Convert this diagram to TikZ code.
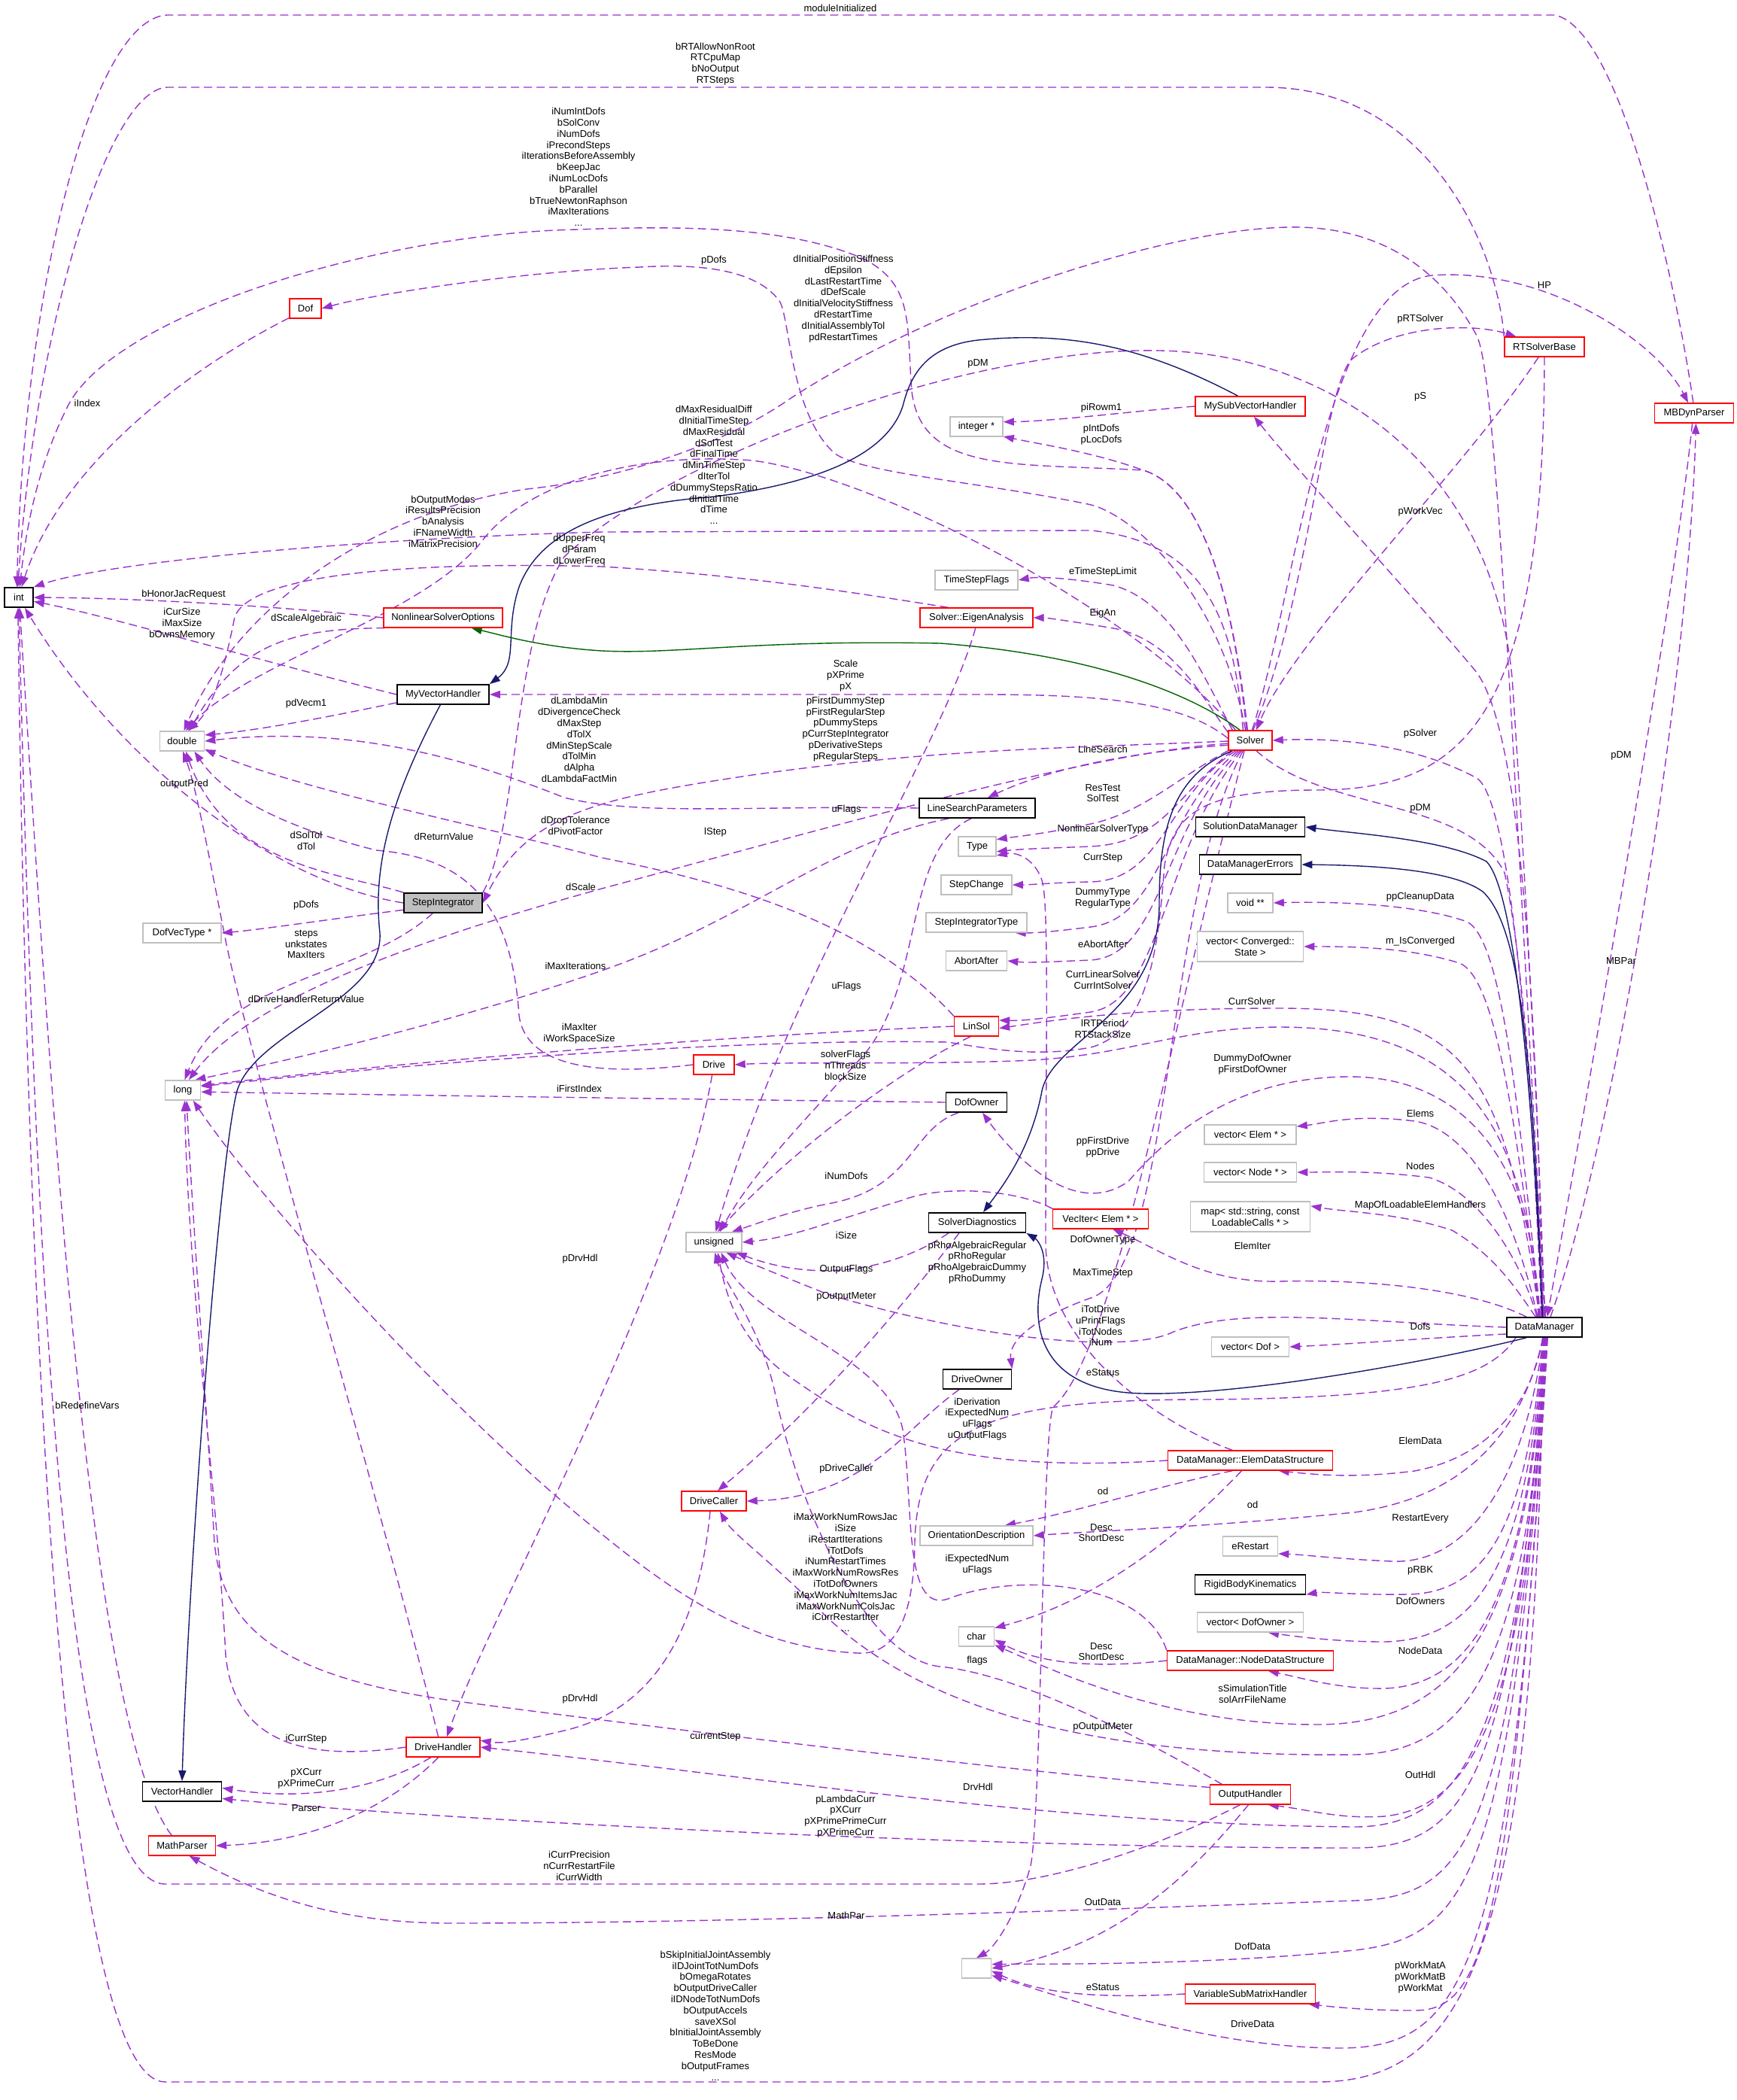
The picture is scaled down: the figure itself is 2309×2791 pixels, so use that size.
\documentclass[tikz,border=0pt]{standalone}
\usepackage{fontspec}
\setmainfont{Liberation Sans}
\usetikzlibrary{arrows.meta}
\definecolor{purp}{HTML}{9A32CD}
\definecolor{navyc}{HTML}{191970}
\definecolor{greenc}{HTML}{006400}
\definecolor{redb}{HTML}{FF0000}
\definecolor{greyb}{HTML}{BFBFBF}
\newcommand\dgfont{\fontsize{13}{14.8}\selectfont}
\pgfdeclarelayer{bgl}
\pgfdeclarelayer{edges}
\pgfsetlayers{bgl,edges,main}
\tikzset{
  basebox/.style={draw, line width=1.4pt, minimum height=26pt, inner xsep=3pt, inner ysep=2pt, font=\dgfont, fill=white, align=center},
  redbox/.style={basebox, draw=redb},
  blkbox/.style={basebox, draw=black, line width=1.8pt},
  greybox/.style={basebox, draw=greyb, line width=1.6pt},
  curbox/.style={basebox, draw=black, fill=greyb, line width=1.8pt},
  lbl/.style={font=\dgfont, align=center, inner sep=0pt},
  dep/.style={draw=purp, line width=1.4pt, dash pattern=on 11pt off 6pt, -{Triangle[length=14pt,width=10pt]}},
  navyedge/.style={draw=navyc, line width=1.4pt, -{Triangle[length=14pt,width=10pt]}},
  greenedge/.style={draw=greenc, line width=1.4pt, -{Triangle[length=14pt,width=10pt]}}
}
\begin{document}
\begin{tikzpicture}[x=1pt,y=-1pt]
\useasboundingbox (0,0) rectangle (2309,2791);
\begin{pgfonlayer}{bgl}
\fill[white] (0,0) rectangle (2309,2791);
\end{pgfonlayer}

% ---------------- nodes ----------------
\node[blkbox, minimum width=38pt] (nint) at (25,794) {int};
\node[redbox, minimum width=42pt] (ndof) at (406,410) {Dof};
\node[redbox, minimum width=106pt] (nrts) at (2053,461) {RTSolverBase};
\node[redbox, minimum width=105pt] (nmbd) at (2252,549) {MBDynParser};
\node[redbox, minimum width=146pt] (nmsvh) at (1662,540) {MySubVectorHandler};
\node[greybox, minimum width=70pt] (ninteger) at (1298,567) {integer *};
\node[greybox, minimum width=110pt] (ntsf) at (1298,771) {TimeStepFlags};
\node[redbox, minimum width=158pt] (nnso) at (589,821) {NonlinearSolverOptions};
\node[redbox, minimum width=150pt] (nea) at (1298,821) {Solver::EigenAnalysis};
\node[blkbox, minimum width=122pt] (nmvh) at (589,923) {MyVectorHandler};
\node[redbox, minimum width=58pt] (nsolver) at (1662,984) {Solver};
\node[greybox, minimum width=59pt] (ndouble) at (242,985) {double};
\node[blkbox, minimum width=154pt] (nlsp) at (1299,1074) {LineSearchParameters};
\node[blkbox, minimum width=145pt] (nsdm) at (1662,1099) {SolutionDataManager};
\node[greybox, minimum width=50pt] (ntype) at (1299,1125) {Type};
\node[blkbox, minimum width=135pt] (ndme) at (1662,1149) {DataManagerErrors};
\node[greybox, minimum width=94pt] (nsc) at (1298,1176) {StepChange};
\node[curbox, minimum width=104pt] (nsi) at (589,1200) {StepIntegrator};
\node[greybox, minimum width=60pt] (nvoid) at (1662,1200) {void **};
\node[greybox, minimum width=134pt] (nsit) at (1298,1226) {StepIntegratorType};
\node[greybox, minimum width=104pt] (ndvt) at (242,1240) {DofVecType *};
\node[greybox, minimum width=141pt, minimum height=40pt] (nconv) at (1662,1258) {vector< Converged::\\State >};
\node[greybox, minimum width=81pt] (naa) at (1298,1277) {AbortAfter};
\node[redbox, minimum width=59pt] (nlinsol) at (1298,1364) {LinSol};
\node[redbox, minimum width=54pt] (ndrive) at (949,1415) {Drive};
\node[greybox, minimum width=47pt] (nlong) at (243,1449) {long};
\node[blkbox, minimum width=81pt] (ndo) at (1298,1465) {DofOwner};
\node[greybox, minimum width=122pt] (nvelem) at (1662,1508) {vector< Elem * >};
\node[greybox, minimum width=123pt] (nvnode) at (1662,1558) {vector< Node * >};
\node[greybox, minimum width=159pt, minimum height=40pt] (nmap) at (1662,1617) {map< std::string, const\\LoadableCalls * >};
\node[blkbox, minimum width=129pt] (nsd) at (1299,1625) {SolverDiagnostics};
\node[redbox, minimum width=127pt] (nvi) at (1463,1620) {VecIter< Elem * >};
\node[greybox, minimum width=74pt] (nuns) at (949,1651) {unsigned};
\node[blkbox, minimum width=100pt] (ndm) at (2053,1764) {DataManager};
\node[greybox, minimum width=103pt] (nvdof) at (1662,1790) {vector< Dof >};
\node[blkbox, minimum width=91pt] (ndow) at (1299,1833) {DriveOwner};
\node[redbox, minimum width=219pt] (neds) at (1662,1941) {DataManager::ElemDataStructure};
\node[redbox, minimum width=86pt] (ndc) at (949,1995) {DriveCaller};
\node[greybox, minimum width=150pt] (nod) at (1298,2041) {OrientationDescription};
\node[greybox, minimum width=73pt] (ner) at (1662,2055) {eRestart};
\node[blkbox, minimum width=147pt] (nrbk) at (1662,2106) {RigidBodyKinematics};
\node[greybox, minimum width=141pt] (nvdo) at (1662,2156) {vector< DofOwner >};
\node[greybox, minimum width=47pt] (nchar) at (1298,2175) {char};
\node[redbox, minimum width=221pt] (nnds) at (1662,2207) {DataManager::NodeDataStructure};
\node[redbox, minimum width=98pt] (ndh) at (589,2322) {DriveHandler};
\node[blkbox, minimum width=105pt] (nvh) at (242,2381) {VectorHandler};
\node[redbox, minimum width=107pt] (noh) at (1662,2385) {OutputHandler};
\node[redbox, minimum width=89pt] (nmp) at (242,2453) {MathParser};
\node[greybox, minimum width=39pt] (nempty) at (1298,2616) {};
\node[redbox, minimum width=173pt] (nvsmh) at (1662,2650) {VariableSubMatrixHandler};

% ---------------- labels ----------------
\node[lbl] (l1) at (1117,11) {moduleInitialized};
\node[lbl] (l2) at (951,85) {bRTAllowNonRoot\\RTCpuMap\\bNoOutput\\RTSteps};
\node[lbl] (l3) at (769,222) {iNumIntDofs\\bSolConv\\iNumDofs\\iPrecondSteps\\iIterationsBeforeAssembly\\bKeepJac\\iNumLocDofs\\bParallel\\bTrueNewtonRaphson\\iMaxIterations\\...};
\node[lbl] (l4) at (949,346) {pDofs};
\node[lbl] (l5) at (1121,397) {dInitialPositionStiffness\\dEpsilon\\dLastRestartTime\\dDefScale\\dInitialVelocityStiffness\\dRestartTime\\dInitialAssemblyTol\\pdRestartTimes};
\node[lbl] (l6) at (116,536) {iIndex};
\node[lbl] (l7) at (1300,483) {pDM};
\node[lbl] (l8) at (2053,379) {HP};
\node[lbl] (l9) at (1888,424) {pRTSolver};
\node[lbl] (l10) at (1464,542) {piRowm1};
\node[lbl] (l11) at (1464,578) {pIntDofs\\pLocDofs};
\node[lbl] (l12) at (1888,527) {pS};
\node[lbl] (l13) at (949,618) {dMaxResidualDiff\\dInitialTimeStep\\dMaxResidual\\dSolTest\\dFinalTime\\dMinTimeStep\\dIterTol\\dDummyStepsRatio\\dInitialTime\\dTime\\...};
\node[lbl] (l14) at (589,693) {bOutputModes\\iResultsPrecision\\bAnalysis\\iFNameWidth\\iMatrixPrecision};
\node[lbl] (l15) at (1888,680) {pWorkVec};
\node[lbl] (l16) at (770,731) {dUpperFreq\\dParam\\dLowerFreq};
\node[lbl] (l17) at (1466,760) {eTimeStepLimit};
\node[lbl] (l18) at (244,790) {bHonorJacRequest};
\node[lbl] (l19) at (242,829) {iCurSize\\iMaxSize\\bOwnsMemory};
\node[lbl] (l20) at (407,822) {dScaleAlgebraic};
\node[lbl] (l21) at (1466,815) {EigAn};
\node[lbl] (l22) at (1124,898) {Scale\\pXPrime\\pX};
\node[lbl] (l23) at (1124,969) {pFirstDummyStep\\pFirstRegularStep\\pDummySteps\\pCurrStepIntegrator\\pDerivativeSteps\\pRegularSteps};
\node[lbl] (l24) at (407,935) {pdVecm1};
\node[lbl] (l25) at (770,983) {dLambdaMin\\dDivergenceCheck\\dMaxStep\\dTolX\\dMinStepScale\\dTolMin\\dAlpha\\dLambdaFactMin};
\node[lbl] (l26) at (1888,975) {pSolver};
\node[lbl] (l27) at (1466,996) {LineSearch};
\node[lbl] (l28) at (2155,1004) {pDM};
\node[lbl] (l29) at (245,1042) {outputPred};
\node[lbl] (l30) at (1466,1054) {ResTest\\SolTest};
\node[lbl] (l31) at (1888,1074) {pDM};
\node[lbl] (l32) at (1125,1076) {uFlags};
\node[lbl] (l33) at (765,1097) {dDropTolerance\\dPivotFactor};
\node[lbl] (l34) at (1466,1102) {NonlinearSolverType};
\node[lbl] (l35) at (951,1106) {lStep};
\node[lbl] (l36) at (407,1117) {dSolTol\\dTol};
\node[lbl] (l37) at (590,1112) {dReturnValue};
\node[lbl] (l38) at (1466,1140) {CurrStep};
\node[lbl] (l39) at (772,1179) {dScale};
\node[lbl] (l40) at (1888,1192) {ppCleanupData};
\node[lbl] (l41) at (1466,1194) {DummyType\\RegularType};
\node[lbl] (l42) at (407,1203) {pDofs};
\node[lbl] (l43) at (407,1255) {steps\\unkstates\\MaxIters};
\node[lbl] (l44) at (1888,1251) {m\_IsConverged};
\node[lbl] (l45) at (1466,1255) {eAbortAfter};
\node[lbl] (l46) at (2155,1277) {MBPar};
\node[lbl] (l47) at (765,1284) {iMaxIterations};
\node[lbl] (l48) at (1466,1302) {CurrLinearSolver\\CurrIntSolver};
\node[lbl] (l49) at (1125,1311) {uFlags};
\node[lbl] (l50) at (407,1328) {dDriveHandlerReturnValue};
\node[lbl] (l51) at (1664,1331) {CurrSolver};
\node[lbl] (l52) at (1466,1367) {lRTPeriod\\RTStackSize};
\node[lbl] (l53) at (770,1374) {iMaxIter\\iWorkSpaceSize};
\node[lbl] (l54) at (1124,1416) {solverFlags\\nThreads\\blockSize};
\node[lbl] (l55) at (1665,1415) {DummyDofOwner\\pFirstDofOwner};
\node[lbl] (l56) at (770,1447) {iFirstIndex};
\node[lbl] (l57) at (1888,1480) {Elems};
\node[lbl] (l58) at (1466,1525) {ppFirstDrive\\ppDrive};
\node[lbl] (l59) at (1888,1550) {Nodes};
\node[lbl] (l60) at (1125,1563) {iNumDofs};
\node[lbl] (l61) at (1888,1602) {MapOfLoadableElemHandlers};
\node[lbl] (l62) at (1125,1642) {iSize};
\node[lbl] (l63) at (1466,1648) {DofOwnerType};
\node[lbl] (l64) at (1665,1656) {ElemIter};
\node[lbl] (l65) at (1299,1678) {pRhoAlgebraicRegular\\pRhoRegular\\pRhoAlgebraicDummy\\pRhoDummy};
\node[lbl] (l66) at (771,1673) {pDrvHdl};
\node[lbl] (l67) at (1125,1687) {OutputFlags};
\node[lbl] (l68) at (1466,1692) {MaxTimeStep};
\node[lbl] (l69) at (1125,1723) {pOutputMeter};
\node[lbl] (l70) at (1463,1762) {iTotDrive\\uPrintFlags\\iTotNodes\\iNum};
\node[lbl] (l71) at (1888,1763) {Dofs};
\node[lbl] (l72) at (1466,1824) {eStatus};
\node[lbl] (l73) at (1299,1886) {iDerivation\\iExpectedNum\\uFlags\\uOutputFlags};
\node[lbl] (l74) at (116,1868) {bRedefineVars};
\node[lbl] (l75) at (1888,1915) {ElemData};
\node[lbl] (l76) at (1125,1952) {pDriveCaller};
\node[lbl] (l77) at (1466,1982) {od};
\node[lbl] (l78) at (1665,2000) {od};
\node[lbl] (l79) at (1888,2018) {RestartEvery};
\node[lbl] (l80) at (1124,2090) {iMaxWorkNumRowsJac\\iSize\\iRestartIterations\\iTotDofs\\iNumRestartTimes\\iMaxWorkNumRowsRes\\iTotDofOwners\\iMaxWorkNumItemsJac\\iMaxWorkNumColsJac\\iCurrRestartIter\\...};
\node[lbl] (l81) at (1464,2037) {Desc\\ShortDesc};
\node[lbl] (l82) at (1299,2080) {iExpectedNum\\uFlags};
\node[lbl] (l83) at (1888,2087) {pRBK};
\node[lbl] (l84) at (1888,2128) {DofOwners};
\node[lbl] (l85) at (1464,2195) {Desc\\ShortDesc};
\node[lbl] (l86) at (1888,2194) {NodeData};
\node[lbl] (l87) at (1299,2207) {flags};
\node[lbl] (l88) at (1665,2251) {sSimulationTitle\\solArrFileName};
\node[lbl] (l89) at (771,2258) {pDrvHdl};
\node[lbl] (l90) at (1466,2295) {pOutputMeter};
\node[lbl] (l91) at (951,2308) {currentStep};
\node[lbl] (l92) at (407,2311) {iCurrStep};
\node[lbl] (l93) at (1888,2359) {OutHdl};
\node[lbl] (l94) at (407,2364) {pXCurr\\pXPrimeCurr};
\node[lbl] (l95) at (1300,2375) {DrvHdl};
\node[lbl] (l96) at (1124,2414) {pLambdaCurr\\pXCurr\\pXPrimePrimeCurr\\pXPrimeCurr};
\node[lbl] (l97) at (407,2403) {Parser};
\node[lbl] (l98) at (770,2480) {iCurrPrecision\\nCurrRestartFile\\iCurrWidth};
\node[lbl] (l99) at (1466,2528) {OutData};
\node[lbl] (l100) at (1125,2546) {MathPar};
\node[lbl] (l101) at (1665,2587) {DofData};
\node[lbl] (l102) at (951,2679) {bSkipInitialJointAssembly\\iIDJointTotNumDofs\\bOmegaRotates\\bOutputDriveCaller\\iIDNodeTotNumDofs\\bOutputAccels\\saveXSol\\bInitialJointAssembly\\ToBeDone\\ResMode\\bOutputFrames\\...};
\node[lbl] (l103) at (1888,2628) {pWorkMatA\\pWorkMatB\\pWorkMat};
\node[lbl] (l104) at (1466,2641) {eStatus};
\node[lbl] (l105) at (1665,2690) {DriveData};

% ---------------- edges ----------------
\begin{pgfonlayer}{edges}
% into int
\draw[dep] (nmbd.95) .. controls (2235,420) and (2160,40) .. (2067,20) -- (222,20) .. controls (120,25) and (30,400) .. (nint.100);
\draw[dep] (nrts.north west) .. controls (1990,330) and (1900,116) .. (1682,116) -- (222,116) .. controls (140,120) and (45,450) .. (nint.95);
\draw[dep] (nsolver.110) .. controls (1640,800) and (1600,650) .. (1520,625) .. controls (1350,615) and (1225,630) .. (1212,520) .. controls (1205,430) and (1215,380) .. (1150,345) .. controls (1050,300) and (900,300) .. (769,305) .. controls (500,310) and (150,420) .. (90,540) .. controls (50,620) and (35,700) .. (nint.85);
\draw[dep] (nsolver.125) .. controls (1640,820) and (1600,720) .. (1450,705) -- (800,707) .. controls (500,715) and (150,745) .. (nint.north east);
\draw[dep] (nnso.west) .. controls (400,808) and (200,795) .. (nint.east);
\draw[dep] (nmvh.west) .. controls (350,880) and (150,820) .. (nint.-15);
\draw[dep] (nsi.west) .. controls (350,1170) and (150,1000) .. (nint.-60);
\draw[dep] (ndof.-150) .. controls (250,490) and (80,620) .. (nint.75);
\draw[dep] (nmp.135) .. controls (120,2300) and (70,1500) .. (nint.-85);
\draw[dep] (noh.-135) .. controls (1550,2450) and (1400,2504) .. (1300,2504) -- (220,2504) .. controls (80,2504) and (45,1600) .. (nint.-90);
\draw[dep] (ndm.-95) .. controls (2040,2600) and (1950,2767) .. (1750,2767) -- (220,2767) .. controls (100,2767) and (40,2000) .. (nint.-95);
% into double
\draw[dep] (nsolver.145) .. controls (1500,800) and (1150,630) .. (1000,612) .. controls (850,600) and (700,640) .. (640,720) .. controls (560,820) and (330,880) .. (ndouble.70);
\draw[dep] (nea.160) .. controls (1150,790) and (1000,765) .. (800,753) .. controls (500,745) and (330,770) .. (312,820) .. controls (300,880) and (285,940) .. (ndouble.60);
\draw[dep] (nnso.-170) .. controls (380,835) and (315,860) .. (ndouble.55);
\draw[dep] (nmvh.-170) .. controls (450,950) and (350,970) .. (ndouble.15);
\draw[dep] (nlsp.west) .. controls (1000,1070) and (850,1085) .. (750,1060) .. controls (600,1000) and (450,965) .. (ndouble.0);
\draw[dep] (nlinsol.north west) .. controls (1150,1220) and (950,1170) .. (800,1140) .. controls (650,1100) and (400,1050) .. (ndouble.-20);
\draw[dep] (nsi.north west) .. controls (450,1160) and (300,1150) .. (ndouble.-70);
\draw[dep] (ndrive.west) .. controls (800,1430) and (700,1420) .. (690,1350) .. controls (680,1200) and (620,1140) .. (500,1130) .. controls (380,1100) and (300,1060) .. (ndouble.-40);
\draw[dep] (ndh.115) .. controls (520,2050) and (330,1400) .. (300,1250) .. controls (280,1150) and (262,1050) .. (ndouble.-85);
\draw[dep] (ndm.85) .. controls (2010,1000) and (1990,500) .. (1963,446) .. controls (1900,330) and (1800,300) .. (1712,302) .. controls (1550,305) and (1250,400) .. (1050,530) .. controls (950,600) and (800,640) .. (700,650) .. controls (500,680) and (320,800) .. (ndouble.80);
% DofVecType
\draw[dep] (nsi.-170) .. controls (450,1220) and (350,1235) .. (ndvt.east);
% into long
\draw[dep] (nsi.-135) .. controls (480,1300) and (300,1300) .. (nlong.80);
\draw[dep] (nsolver.-172) .. controls (1450,1000) and (1100,1100) .. (800,1181) .. controls (550,1250) and (330,1330) .. (nlong.60);
\draw[dep] (nlsp.-160) .. controls (1100,1120) and (1000,1220) .. (800,1290) .. controls (600,1360) and (380,1410) .. (nlong.40);
\draw[dep] (nlinsol.west) .. controls (1000,1375) and (600,1405) .. (nlong.15);
\draw[dep] (nrts.south) .. controls (2052,950) and (1950,1050) .. (1750,1050) .. controls (1600,1050) and (1560,1080) .. (1548,1150) .. controls (1540,1250) and (1530,1370) .. (1450,1392) .. controls (1380,1405) and (1320,1395) .. (1260,1385) .. controls (1000,1380) and (600,1408) .. (nlong.12);
\draw[dep] (ndo.west) .. controls (1000,1462) and (500,1455) .. (nlong.-5);
\draw[dep] (ndh.west) .. controls (380,2345) and (310,2300) .. (300,2200) .. controls (290,2000) and (250,1700) .. (nlong.-80);
\draw[dep] (noh.170) .. controls (1400,2360) and (900,2300) .. (600,2260) .. controls (350,2225) and (295,2150) .. (285,2050) .. controls (270,1800) and (255,1600) .. (nlong.-70);
\draw[dep] (ndm.-160) .. controls (1980,1830) and (1900,1858) .. (1600,1860) .. controls (1300,1860) and (1220,1900) .. (1216,2050) .. controls (1215,2150) and (1190,2200) .. (1140,2197) .. controls (1000,2190) and (900,2120) .. (800,2039) .. controls (600,1880) and (350,1600) .. (nlong.-45);
% into unsigned
\draw[dep] (nea.-95) .. controls (1250,1000) and (1050,1300) .. (nuns.80);
\draw[dep] (nlsp.-120) .. controls (1200,1130) and (1230,1300) .. (1150,1400) .. controls (1060,1500) and (1000,1560) .. (nuns.60);
\draw[dep] (nlinsol.-120) .. controls (1200,1420) and (1050,1530) .. (nuns.70);
\draw[dep] (ndo.-150) .. controls (1210,1500) and (1215,1580) .. (1100,1600) .. controls (1050,1610) and (1010,1625) .. (nuns.30);
\draw[dep] (nvi.north west) .. controls (1350,1580) and (1250,1575) .. (1200,1595) .. controls (1100,1625) and (1050,1645) .. (nuns.east);
\draw[dep] (nsd.-160) .. controls (1200,1680) and (1100,1710) .. (nuns.-25);
\draw[dep] (ndm.west) .. controls (1800,1757) and (1650,1735) .. (1560,1770) .. controls (1500,1800) and (1300,1780) .. (1100,1720) .. controls (1050,1700) and (1000,1680) .. (nuns.-40);
\draw[dep] (neds.west) .. controls (1250,1960) and (1150,1900) .. (1050,1830) .. controls (980,1780) and (965,1720) .. (nuns.-70);
\draw[dep] (nnds.north west) .. controls (1520,2100) and (1350,2090) .. (1260,2125) .. controls (1200,2145) and (1215,2000) .. (1200,1900) .. controls (1180,1800) and (1000,1760) .. (nuns.-55);
\draw[dep] (noh.160) .. controls (1500,2300) and (1350,2225) .. (1250,2215) .. controls (1150,2205) and (1060,2000) .. (1030,1850) .. controls (1010,1760) and (960,1700) .. (nuns.-85);
% Solver to its member types
\draw[dep] (nsolver.150) .. controls (1600,900) and (1560,800) .. (1480,778) .. controls (1420,768) and (1380,766) .. (ntsf.east);
\draw[dep] (nsolver.160) .. controls (1600,930) and (1560,850) .. (1480,835) .. controls (1420,825) and (1390,821) .. (nea.east);
\draw[dep] (nsolver.-168) .. controls (1560,995) and (1420,1010) .. (nlsp.45);
\draw[dep] (nsolver.-155) .. controls (1570,1030) and (1520,1080) .. (1450,1095) .. controls (1390,1108) and (1350,1112) .. (ntype.20);
\draw[dep] (nsolver.-150) .. controls (1560,1060) and (1545,1120) .. (1450,1125) .. controls (1400,1127) and (1360,1128) .. (ntype.-15);
\draw[dep] (nsolver.-145) .. controls (1550,1060) and (1545,1170) .. (1450,1172) .. controls (1400,1173) and (1370,1176) .. (nsc.east);
\draw[dep] (nsolver.-140) .. controls (1545,1080) and (1545,1220) .. (1450,1232) .. controls (1400,1238) and (1380,1240) .. (nsit.-15);
\draw[dep] (nsolver.-135) .. controls (1545,1100) and (1545,1270) .. (1450,1276) .. controls (1400,1278) and (1370,1280) .. (naa.east);
\draw[dep] (nsolver.-130) .. controls (1545,1130) and (1545,1330) .. (1450,1345) .. controls (1400,1352) and (1360,1357) .. (nlinsol.15);
\draw[dep] (nsolver.-125) .. controls (1545,1200) and (1560,1690) .. (1450,1725) .. controls (1380,1750) and (1340,1780) .. (ndow.north east);
\draw[dep] (nsolver.-120) .. controls (1550,1400) and (1480,1800) .. (1400,1870) .. controls (1385,1900) and (1385,2400) .. (1370,2480) .. controls (1350,2550) and (1320,2590) .. (nempty.north);
\draw[dep] (nsolver.175) .. controls (1570,930) and (1450,923) .. (1300,923) -- (nmvh.east);
\draw[dep] (nsolver.-178) .. controls (1400,995) and (1250,995) .. (1000,1030) .. controls (800,1060) and (700,1080) .. (nsi.east);
\draw[dep] (nsolver.115) .. controls (1620,780) and (1500,680) .. (1446,670) .. controls (1300,640) and (1150,630) .. (1110,603) .. controls (1050,550) and (1050,420) .. (1036,400) .. controls (1000,350) and (900,352) .. (851,355) .. controls (700,360) and (500,390) .. (ndof.east);
\draw[dep] (nsolver.105) .. controls (1640,800) and (1600,650) .. (1520,625) .. controls (1450,600) and (1380,590) .. (ninteger.-20);
\draw[dep] (nsolver.80) .. controls (1720,800) and (1760,380) .. (1904,366) .. controls (2050,355) and (2200,450) .. (nmbd.120);
\draw[dep] (nsolver.75) .. controls (1740,800) and (1760,500) .. (1800,475) .. controls (1860,430) and (1960,430) .. (nrts.160);
\draw[dep] (nrts.-120) .. controls (1950,620) and (1720,850) .. (nsolver.60);
\draw[dep] (nsolver.-60) .. controls (1760,1080) and (1950,1060) .. (2000,1160) .. controls (2030,1300) and (2045,1600) .. (ndm.93);
% DataManager and others
\draw[dep] (ndm.105) .. controls (2030,1300) and (2000,1050) .. (1961,1033) .. controls (1880,990) and (1780,980) .. (nsolver.east);
\draw[dep] (nmbd.-100) .. controls (2225,800) and (2120,1400) .. (ndm.75);
\draw[dep] (ndm.60) .. controls (2150,1500) and (2245,900) .. (nmbd.-80);
\draw[dep] (ndm.98) .. controls (2040,1200) and (2010,950) .. (1960,890) .. controls (1850,760) and (1720,620) .. (nmsvh.-70);
\draw[dep] (ndm.110) .. controls (2020,1500) and (2000,1250) .. (1950,1225) .. controls (1880,1200) and (1760,1198) .. (nvoid.east);
\draw[dep] (ndm.112) .. controls (2015,1500) and (1990,1300) .. (1940,1280) .. controls (1870,1258) and (1790,1258) .. (nconv.east);
\draw[dep] (ndm.115) .. controls (2000,1420) and (1950,1340) .. (1700,1340) .. controls (1500,1340) and (1400,1356) .. (nlinsol.-5);
\draw[dep] (ndm.118) .. controls (2040,1550) and (1950,1430) .. (1792,1431) .. controls (1650,1432) and (1560,1500) .. (1500,1570) .. controls (1430,1620) and (1350,1540) .. (ndo.-60);
\draw[dep] (ndm.120) .. controls (2030,1500) and (1950,1365) .. (1700,1365) .. controls (1560,1366) and (1500,1405) .. (1350,1410) .. controls (1200,1415) and (1050,1411) .. (ndrive.east);
\draw[dep] (ndm.123) .. controls (2010,1600) and (1950,1500) .. (1880,1490) .. controls (1800,1480) and (1760,1493) .. (nvelem.10);
\draw[dep] (ndm.126) .. controls (2030,1700) and (1980,1590) .. (1900,1565) .. controls (1820,1555) and (1770,1558) .. (nvnode.east);
\draw[dep] (ndm.130) .. controls (2020,1720) and (1990,1670) .. (1930,1635) .. controls (1860,1612) and (1790,1611) .. (nmap.10);
\draw[dep] (ndm.150) .. controls (1950,1710) and (1800,1700) .. (1700,1703) .. controls (1600,1705) and (1540,1660) .. (nvi.-40);
\draw[dep] (ndm.-170) .. controls (1900,1778) and (1800,1786) .. (nvdof.east);
\draw[dep] (ndm.-100) .. controls (2040,1850) and (1990,1935) .. (1880,1955) .. controls (1800,1965) and (1750,1960) .. (neds.-20);
\draw[dep] (ndm.-98) .. controls (2025,1900) and (1950,1990) .. (1800,2010) .. controls (1600,2030) and (1450,2035) .. (nod.east);
\draw[dep] (neds.-150) .. controls (1520,1980) and (1420,2012) .. (nod.20);
\draw[dep] (neds.-130) .. controls (1560,2050) and (1450,2130) .. (nchar.25);
\draw[dep] (neds.150) .. controls (1560,1900) and (1390,1800) .. (1390,1650) .. controls (1390,1400) and (1395,1200) .. (1385,1170) .. controls (1375,1140) and (1350,1132) .. (ntype.-25);
\draw[dep] (ndm.-96) .. controls (2030,1950) and (1960,2080) .. (1850,2075) .. controls (1780,2072) and (1730,2066) .. (ner.-15);
\draw[dep] (ndm.-94) .. controls (2030,2000) and (1990,2118) .. (1870,2119) .. controls (1800,2120) and (1760,2115) .. (nrbk.-10);
\draw[dep] (ndm.-92) .. controls (2030,2050) and (1980,2180) .. (1840,2182) .. controls (1780,2182) and (1730,2176) .. (nvdo.-30);
\draw[dep] (ndm.-90) .. controls (2030,2100) and (1970,2240) .. (1840,2244) .. controls (1780,2245) and (1730,2230) .. (nnds.-30);
\draw[dep] (ndm.-88) .. controls (2030,2150) and (1950,2292) .. (1750,2292) .. controls (1550,2292) and (1400,2220) .. (nchar.-25);
\draw[dep] (nnds.west) .. controls (1450,2218) and (1380,2210) .. (nchar.-10);
\draw[dep] (ndm.-86) .. controls (2030,2200) and (1960,2330) .. (1800,2332) .. controls (1500,2335) and (1250,2290) .. (1100,2150) .. controls (1020,2070) and (975,2040) .. (ndc.-60);
\draw[dep] (ndm.-84) .. controls (2030,2250) and (1970,2400) .. (1840,2414) .. controls (1780,2418) and (1740,2405) .. (noh.-30);
\draw[dep] (ndm.-83) .. controls (2020,2300) and (1950,2428) .. (1800,2428) .. controls (1400,2425) and (1000,2360) .. (ndh.east);
\draw[dep] (ndm.-81) .. controls (2010,2350) and (1960,2456) .. (1800,2456) .. controls (1300,2456) and (600,2420) .. (nvh.-10);
\draw[dep] (ndm.-79) .. controls (2010,2450) and (1950,2522) .. (1800,2526) .. controls (1500,2536) and (1000,2556) .. (600,2556) .. controls (450,2556) and (350,2520) .. (nmp.-55);
\draw[dep] (noh.-100) .. controls (1600,2470) and (1500,2585) .. (nempty.east);
\draw[dep] (ndm.-77) .. controls (2010,2500) and (1950,2575) .. (1800,2592) .. controls (1600,2612) and (1400,2610) .. (nempty.15);
\draw[dep] (nvsmh.west) .. controls (1450,2657) and (1380,2648) .. (nempty.-10);
\draw[dep] (ndm.-75) .. controls (2010,2580) and (1970,2672) .. (1880,2672) .. controls (1820,2672) and (1780,2668) .. (nvsmh.-10);
\draw[dep] (ndm.-73) .. controls (2010,2620) and (1950,2722) .. (1780,2722) .. controls (1600,2722) and (1400,2650) .. (nempty.-25);
\draw[dep] (nmsvh.west) .. controls (1520,545) and (1400,560) .. (ninteger.10);
\draw[dep] (ndh.-140) .. controls (500,2380) and (400,2393) .. (nvh.5);
\draw[dep] (ndh.-115) .. controls (520,2400) and (420,2448) .. (nmp.east);
\draw[dep] (ndc.-110) .. controls (930,2150) and (880,2270) .. (750,2300) .. controls (700,2312) and (670,2318) .. (ndh.10);
\draw[dep] (ndrive.-100) .. controls (900,1700) and (650,2150) .. (ndh.70);
\draw[dep] (ndow.-150) .. controls (1200,1900) and (1150,1990) .. (ndc.east);
\draw[dep] (nsd.-150) .. controls (1150,1800) and (1050,1900) .. (ndc.70);
\draw[dep] (nsi.north east) .. controls (690,1100) and (680,850) .. (750,740) .. controls (900,600) and (1300,460) .. (1542,466) .. controls (1750,470) and (1980,600) .. (2010,900) .. controls (2030,1200) and (2045,1500) .. (ndm.88);
% inheritance
\draw[navyedge] (nmsvh.140) .. controls (1520,460) and (1420,440) .. (1300,452) .. controls (1230,460) and (1210,500) .. (1200,540) .. controls (1180,600) and (1100,640) .. (950,660) .. controls (820,670) and (720,700) .. (690,780) .. controls (670,840) and (690,880) .. (nmvh.north east);
\draw[navyedge] (nmvh.-105) .. controls (520,1060) and (495,1150) .. (505,1240) .. controls (510,1330) and (340,1370) .. (315,1450) .. controls (290,1550) and (250,2100) .. (nvh.north);
\draw[navyedge] (nsolver.-150) .. controls (1560,1030) and (1541,1100) .. (1541,1200) .. controls (1541,1350) and (1400,1380) .. (1385,1450) .. controls (1370,1530) and (1330,1580) .. (nsd.60);
\draw[navyedge] (ndm.-150) .. controls (1900,1810) and (1650,1855) .. (1520,1852) .. controls (1380,1850) and (1370,1760) .. (1385,1700) .. controls (1395,1660) and (1375,1645) .. (nsd.south east);
\draw[navyedge] (ndm.100) .. controls (2035,1400) and (2010,1180) .. (1976,1145) .. controls (1920,1115) and (1800,1108) .. (nsdm.east);
\draw[navyedge] (ndm.102) .. controls (2038,1400) and (2020,1230) .. (1971,1185) .. controls (1930,1155) and (1820,1150) .. (ndme.east);
\draw[greenedge] (nsolver.135) .. controls (1580,920) and (1450,870) .. (1250,855) .. controls (1000,850) and (900,870) .. (800,865) .. controls (720,860) and (670,845) .. (nnso.-20);
\end{pgfonlayer}
\end{tikzpicture}
\end{document}
